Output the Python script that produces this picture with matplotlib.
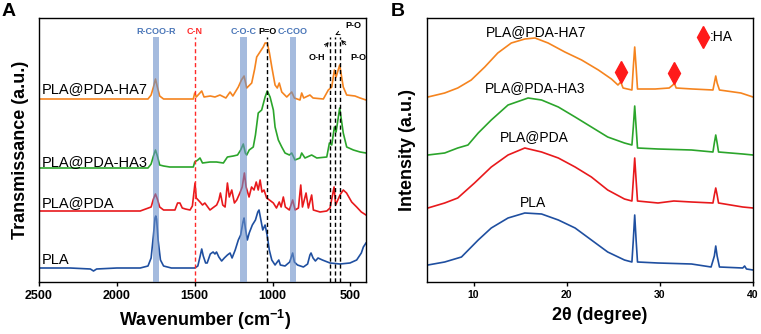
import matplotlib
matplotlib.use("Agg")
import matplotlib.pyplot as plt

plt.rcParams['font.family'] = ['Liberation Sans', 'DejaVu Sans']
plt.rcParams['mathtext.fontset'] = 'custom'
plt.rcParams['mathtext.rm'] = 'Liberation Sans'
plt.rcParams['mathtext.bf'] = 'Liberation Sans:bold'

# ---------------- Panel A: FTIR ----------------
ftir_names = ["PLA", "PLA@PDA", "PLA@PDA-HA3", "PLA@PDA-HA7"]
ftir_colors = ["#1f4fa0", "#e8191c", "#2ba52b", "#f5841f"]
ftir_offsets = [14, 71, 114, 183]

pla_w = [2500, 2300, 2170, 2150, 2130, 2000, 1850, 1800, 1780, 1765, 1755, 1750, 1745, 1735, 1720, 1700,
         1650, 1500, 1480, 1465, 1455, 1445, 1430, 1420, 1400, 1382, 1370, 1360, 1345, 1327, 1310, 1290,
         1273, 1260, 1240, 1220, 1205, 1190, 1183, 1175, 1162, 1150, 1130, 1110, 1095, 1087, 1075, 1063,
         1048, 1035, 1021, 1005, 984, 970, 960, 950, 920, 890, 871, 860, 840, 802, 775, 760, 753, 740,
         725, 708, 680, 631, 567, 503, 460, 430, 417, 400]
pla_t = [0, 0, -1, -3, -1, 0, 0, 2, 10, 33, 50, 52, 49, 28, 8, 2,
         0, 0, 2, 12, 19, 12, 5, 5, 14, 16, 14, 16, 11, 7, 10, 13,
         15, 10, 18, 28, 33, 46, 50, 40, 28, 35, 43, 48, 56, 58, 48, 38,
         43, 33, 18, 8, 3, 6, 8, 3, 2, 6, 15, 6, 3, 1, 4, 13, 15, 10,
         7, 10, 8, 5, 4, 5, 8, 15, 21, 25]

pda_w = [2500, 2200, 1850, 1780, 1765, 1752, 1740, 1725, 1700, 1640, 1627, 1610, 1595, 1580, 1560, 1530,
         1515, 1498, 1490, 1466, 1450, 1435, 1402, 1385, 1359, 1345, 1335, 1320, 1305, 1290, 1278, 1262,
         1245, 1230, 1210, 1195, 1181, 1170, 1151, 1135, 1119, 1105, 1092, 1080, 1068, 1055, 1038, 1020,
         995, 975, 957, 945, 931, 918, 892, 871, 855, 834, 819, 808, 785, 770, 749, 738, 695, 652,
         631, 605, 595, 567, 546, 525, 492, 460, 430, 400]
pda_t = [0, 0, 0, 4, 12, 17, 12, 4, 1, 1, 1, 8, 8, 3, 2, 1,
         5, 28, 13, 9, 6, 8, 1, 3, 6, 11, 18, 6, 4, 28, 14, 21,
         8, 11, 18, 24, 38, 24, 14, 24, 21, 29, 21, 31, 19, 21, 13, 11,
         8, 3, 9, 4, 14, 4, 1, 11, 1, 3, 26, 4, 18, 3, 16, 1, -1, 0,
         3, 24, 6, 16, 21, 18, 9, 4, -1, -4]

ha3_w = [2500, 2000, 1800, 1780, 1765, 1752, 1740, 1725, 1700, 1660, 1509, 1500, 1480, 1466, 1450, 1402,
         1360, 1316, 1290, 1252, 1225, 1205, 1188, 1175, 1166, 1150, 1124, 1110, 1092, 1070, 1048, 1034,
         1016, 995, 984, 963, 941, 920, 892, 877, 856, 824, 813, 792, 749, 716, 652, 635, 620, 603,
         592, 569, 546, 524, 481, 438, 400]
ha3_t = [0, 0, 0, 4, 12, 18, 12, 3, 2, 1, 1, 6, 8, 10, 5, 6,
         6, 5, 11, 12, 13, 18, 24, 15, 13, 18, 21, 33, 55, 58, 71, 77,
         71, 58, 41, 28, 21, 15, 13, 15, 8, 10, 15, 10, 13, 10, 11, 25, 23, 41,
         36, 60, 35, 21, 18, 16, 15]

ha7_w = [2500, 2000, 1800, 1780, 1765, 1752, 1740, 1725, 1700, 1550, 1509, 1500, 1490, 1455, 1440, 1400,
         1370, 1338, 1300, 1273, 1255, 1220, 1200, 1183, 1166, 1134, 1115, 1102, 1081, 1060, 1048, 1034,
         1020, 1005, 984, 970, 957, 941, 909, 877, 860, 824, 813, 800, 760, 740, 674, 642, 620, 603,
         592, 569, 546, 524, 471, 438, 400]
ha7_t = [0, 0, 0, 4, 12, 20, 12, 3, 0, 0, 0, 6, 2, 8, 2, 3,
         2, 4, 1, 7, 3, 12, 19, 23, 11, 16, 30, 42, 47, 52, 56, 56,
         46, 32, 14, 11, 16, 7, 2, 7, 1, -1, 6, 1, 4, 1, 0, 9, 12, 29,
         22, 34, 12, 4, 3, 1, -1]

ftir_w = [pla_w, pda_w, ha3_w, ha7_w]
ftir_t = [pla_t, pda_t, ha3_t, ha7_t]
ftir_label_y = [22, 79, 120, 193]

band_centers = [1750, 1185, 870]
band_labels = ["R-COO-R", "C-O-C", "C-COO"]
band_half = 21
cn_line = 1500
po_line = 1035
ha_lines = [632, 602, 567]

# ---------------- Panel B: XRD ----------------
xrd_names = ["PLA", "PLA@PDA", "PLA@PDA-HA3", "PLA@PDA-HA7"]
xrd_offsets = [12, 74, 127, 185]

xrd_pla_x = [5.1, 6.9, 8.7, 10.5, 11.9, 13.7, 15.5, 17.3, 19.1, 20.9, 22.65, 24.4, 26.2, 27.0, 27.15,
             27.3, 27.45, 27.6, 29.8, 33.4, 35.5, 35.85, 36.0, 36.15, 36.4, 38.9, 39.1, 39.3, 40.0]
xrd_pla_y = [5, 8, 13, 30, 42, 52, 57, 56, 50, 42, 30, 18, 10, 8, 30,
             55, 30, 8, 7, 6, 3, 14, 24, 14, 3, 2, 4, 1, 0]

xrd_pda_x = [5.1, 6.9, 8.3, 10.1, 11.9, 13.7, 15.5, 17.3, 19.1, 20.9, 22.65, 24.4, 26.2, 27.0, 27.15,
             27.3, 27.45, 27.6, 29.8, 31.5, 33.4, 35.7, 35.85, 36.0, 36.15, 36.3, 38.9, 40.0]
xrd_pda_y = [0, 5, 10, 25, 41, 53, 60, 56, 50, 41, 31, 18, 9, 7, 28,
             50, 28, 7, 5, 7, 6, 5, 13, 20, 13, 5, 1, 0]

xrd_ha3_x = [5.1, 6.9, 8.3, 9.4, 10.5, 11.9, 13.7, 15.85, 17.3, 19.1, 20.9, 22.65, 24.4, 26.2, 27.0,
             27.15, 27.3, 27.45, 27.6, 29.8, 33.4, 35.7, 35.85, 36.0, 36.15, 36.3, 38.9, 40.0]
xrd_ha3_y = [0, 2, 7, 10, 22, 35, 50, 57, 55, 48, 38, 28, 18, 12, 10,
             28, 49, 28, 7, 6, 5, 3, 12, 20, 12, 3, 1, 0]

xrd_ha7_x = [5.1, 6.9, 8.3, 9.75, 11.2, 12.6, 14.05, 15.5, 16.6, 18.0, 19.8, 21.6, 23.4, 24.8, 25.5,
             25.8, 26.05, 27.0, 27.15, 27.3, 27.45, 27.6, 29.5, 31.0, 31.4, 31.55, 31.75, 33.5, 35.7,
             35.85, 36.0, 36.15, 36.4, 38.7, 40.0]
xrd_ha7_y = [0, 4, 9, 17, 30, 44, 54, 58, 59, 54, 45, 37, 27, 18, 12,
             15, 9, 7, 30, 50, 30, 8, 8, 9, 12, 14, 9, 8, 7,
             14, 21, 14, 7, 4, 0]

xrd_x = [xrd_pla_x, xrd_pda_x, xrd_ha3_x, xrd_ha7_x]
xrd_y = [xrd_pla_y, xrd_pda_y, xrd_ha3_y, xrd_ha7_y]
xrd_label_pos = [(16.4, 79), (16.55, 145), (16.65, 194), (16.75, 250)]
ha_marker_x = [25.85, 31.55]
ha_marker_y = [210, 209]
ha_legend_x = 34.65
ha_legend_y = 245

# ---------------- Figure ----------------
fig = plt.figure(figsize=(7.61, 3.34), dpi=100)
axA = fig.add_axes([39 / 761, 52 / 334, 327 / 761, 264 / 334])
axB = fig.add_axes([427 / 761, 52 / 334, 326 / 761, 264 / 334])

for ax in (axA, axB):
    ax.set_yticks([])
    for s in ax.spines.values():
        s.set_linewidth(1.0)
    ax.tick_params(axis='x', direction='out', length=3, width=1.0, pad=3)
    ax.set_ylim(0, 264)

# Panel A
for w, t, off, c in zip(ftir_w, ftir_t, ftir_offsets, ftir_colors):
    axA.plot(w, [v + off for v in t], color=c, lw=1.2, zorder=2)
for name, y in zip(ftir_names, ftir_label_y):
    axA.text(2480, y, name, fontsize=10.5, ha='left', va='center', zorder=5)

top = 245
lab_fs = 6.5
for bc, bl in zip(band_centers, band_labels):
    axA.fill_betweenx([0, top], bc - band_half, bc + band_half, color="#6a8fc8", alpha=0.6,
                      lw=0, zorder=3)
    axA.text(bc, 250, bl, color="#4a76b8", fontsize=lab_fs, fontweight='bold', ha='center',
             va='center')
axA.plot([cn_line, cn_line], [0, top], color="#ff2a2a", ls=(0, (3, 2)), lw=1.0, zorder=4)
axA.text(cn_line, 250, "C-N", color="#ff2a2a", fontsize=lab_fs, fontweight='bold', ha='center',
         va='center')
axA.plot([po_line, po_line], [0, top], color="black", ls=(0, (3, 2)), lw=1.0, zorder=4)
axA.text(po_line, 250, "P=O", color="black", fontsize=lab_fs, fontweight='bold', ha='center',
         va='center')
for hl in ha_lines:
    axA.plot([hl, hl], [0, top], color="black", ls=(0, (3, 2)), lw=1.0, zorder=4)
axA.annotate("O-H", xy=(640, 240), xytext=(715, 224), fontsize=lab_fs, fontweight='bold',
             ha='center', va='center',
             arrowprops=dict(arrowstyle='->', lw=0.7, color='black', shrinkA=4, shrinkB=0))
axA.annotate("P-O", xy=(598, 247), xytext=(478, 256), fontsize=lab_fs, fontweight='bold',
             ha='center', va='center',
             arrowprops=dict(arrowstyle='->', lw=0.7, color='black', shrinkA=5, shrinkB=0))
axA.annotate("P-O", xy=(560, 242), xytext=(452, 225), fontsize=lab_fs, fontweight='bold',
             ha='center', va='center', annotation_clip=False,
             arrowprops=dict(arrowstyle='->', lw=0.7, color='black', shrinkA=5, shrinkB=0))

axA.set_xlim(2500, 400)
axA.set_xticks([2500, 2000, 1500, 1000, 500])
for lab in axA.get_xticklabels():
    lab.set_fontweight('bold')
    lab.set_fontsize(9)
axA.set_xlabel(r"Wavenumber (cm$^{\mathbf{-1}}$)", fontsize=13, fontweight='bold', labelpad=4)
axA.xaxis.label.set_x(0.508)

# Panel B
for x, y, off, c in zip(xrd_x, xrd_y, xrd_offsets, ftir_colors):
    axB.plot(x, [v + off for v in y], color=c, lw=1.2)
for name, (px, py) in zip(xrd_names, xrd_label_pos):
    axB.text(px, py, name, fontsize=10, ha='center', va='center')
axB.plot(ha_marker_x, ha_marker_y, ls='none', marker='d', color='#ff1a1a', markersize=11)
axB.plot([ha_legend_x], [ha_legend_y], ls='none', marker='d', color='#ff1a1a', markersize=11)
axB.text(ha_legend_x + 0.75, ha_legend_y, ":HA", fontsize=10, ha='left', va='center')
axB.set_xlim(5, 40)
axB.set_xticks([10, 20, 30, 40])
for lab in axB.get_xticklabels():
    lab.set_fontweight('bold')
    lab.set_fontsize(7.5)
axB.set_xlabel("2θ (degree)", fontsize=13, fontweight='bold', labelpad=5)
axB.xaxis.label.set_x(0.531)

fig.text(21 / 761, 1 - 150 / 334, "Transmissance (a.u.)", rotation=90, ha='center', va='center',
         fontsize=13, fontweight='bold')
fig.text(408 / 761, 1 - 150 / 334, "Intensity (a.u.)", rotation=90, ha='center', va='center',
         fontsize=13, fontweight='bold')
fig.text(2 / 761, 1 - 11 / 334, "A", fontsize=14, fontweight='bold', ha='left', va='center')
fig.text(391 / 761, 1 - 11 / 334, "B", fontsize=14, fontweight='bold', ha='left', va='center')

fig.savefig("out.png", dpi=100)
